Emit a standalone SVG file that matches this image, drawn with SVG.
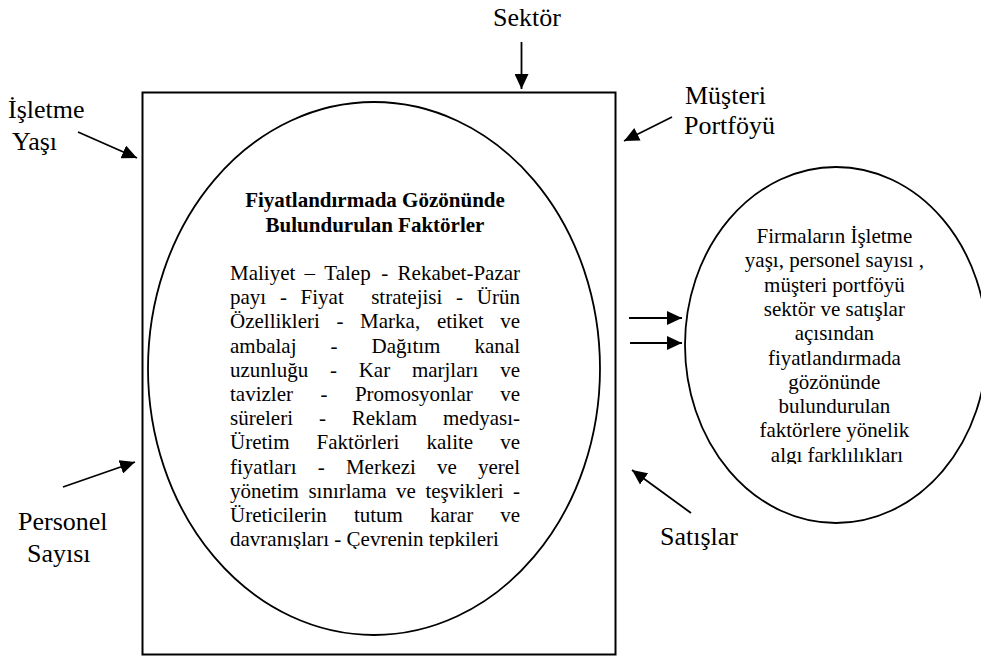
<svg xmlns="http://www.w3.org/2000/svg" width="981" height="657" viewBox="0 0 981 657" font-family="'Liberation Serif', Tinos, 'Times New Roman', Times, 'DejaVu Serif', serif">
<style>
text, tspan{font-family:"Liberation Serif", Tinos, "Times New Roman", Times, "DejaVu Serif", serif;fill:#000}
.lbl{font-size:26px}
.body{font-size:21px}
.title{font-size:21px;font-weight:bold}
.shape{fill:none;stroke:#000}
.conn{stroke:#000;stroke-width:1.8;fill:none;marker-end:url(#ah)}
</style>
<defs>
<marker id="ah" markerUnits="userSpaceOnUse" markerWidth="16" markerHeight="14" refX="15" refY="7" orient="auto">
<path d="M0,0 L15,7 L0,14 Z" fill="#000"/>
</marker>
<clipPath id="clipBody"><rect x="140" y="90" width="480" height="459"/></clipPath>
<clipPath id="clipRight"><rect x="680" y="160" width="301" height="304"/></clipPath>
</defs>
<rect width="981" height="657" fill="#fff"/>

<g id="factors-box">
<rect class="shape" x="142.5" y="92.5" width="473" height="562" stroke-width="2"/>
<ellipse class="shape" cx="374" cy="368.5" rx="226" ry="266.5" stroke-width="1.8"/>
<text class="title" x="375" y="207" text-anchor="middle">Fiyatlandırmada Gözönünde</text>
<text class="title" x="375" y="232" text-anchor="middle">Bulundurulan Faktörler</text>
<g clip-path="url(#clipBody)">
<text class="body" y="280"><tspan x="230">Maliyet</tspan><tspan x="304.6">–</tspan><tspan x="324.3">Talep</tspan><tspan x="381.3">-</tspan><tspan x="397.6">Rekabet-Pazar</tspan></text>
<text class="body" y="304.2"><tspan x="230">payı</tspan><tspan x="279.9">-</tspan><tspan x="300.6">Fiyat</tspan><tspan x="371.2">stratejisi</tspan><tspan x="456.1">-</tspan><tspan x="476.8">Ürün</tspan></text>
<text class="body" y="328.4"><tspan x="230">Özellikleri</tspan><tspan x="336.5">-</tspan><tspan x="360.1">Marka,</tspan><tspan x="436.9">etiket</tspan><tspan x="500.2">ve</tspan></text>
<text class="body" y="352.6"><tspan x="230">ambalaj</tspan><tspan x="330.6">-</tspan><tspan x="371.6">Dağıtım</tspan><tspan x="474.5">kanal</tspan></text>
<text class="body" y="376.8"><tspan x="230">uzunluğu</tspan><tspan x="329.9">-</tspan><tspan x="358.7">Kar</tspan><tspan x="411.9">marjları</tspan><tspan x="500.2">ve</tspan></text>
<text class="body" y="401"><tspan x="230">tavizler</tspan><tspan x="320.4">-</tspan><tspan x="354.9">Promosyonlar</tspan><tspan x="500.2">ve</tspan></text>
<text class="body" y="425.2"><tspan x="230">süreleri</tspan><tspan x="318.9">-</tspan><tspan x="351.8">Reklam</tspan><tspan x="443">medyası-</tspan></text>
<text class="body" y="449.4"><tspan x="230">Üretim</tspan><tspan x="316.6">Faktörleri</tspan><tspan x="426.5">kalite</tspan><tspan x="500.2">ve</tspan></text>
<text class="body" y="473.6"><tspan x="230">fiyatları</tspan><tspan x="317.7">-</tspan><tspan x="345.9">Merkezi</tspan><tspan x="437">ve</tspan><tspan x="478">yerel</tspan></text>
<text class="body" y="497.8"><tspan x="230">yönetim</tspan><tspan x="308.4">sınırlama</tspan><tspan x="396">ve</tspan><tspan x="425.4">teşvikleri</tspan><tspan x="513">-</tspan></text>
<text class="body" y="522"><tspan x="230">Üreticilerin</tspan><tspan x="353.9">tutum</tspan><tspan x="430">karar</tspan><tspan x="500.2">ve</tspan></text>
<text class="body" x="230" y="546.2">davranışları - Çevrenin tepkileri</text>
</g>
</g>

<g id="result-ellipse">
<ellipse class="shape" cx="836" cy="345" rx="151" ry="178" stroke-width="1.8"/>
<g clip-path="url(#clipRight)">
<text class="body" text-anchor="middle">
<tspan x="837" y="243">Firmaların İşletme</tspan>
<tspan x="837" y="267.3">yaşı, personel sayısı ,</tspan>
<tspan x="837" y="291.6">müşteri portföyü</tspan>
<tspan x="837" y="315.9">sektör ve satışlar</tspan>
<tspan x="837" y="340.2">açısından</tspan>
<tspan x="837" y="364.5">fiyatlandırmada</tspan>
<tspan x="837" y="388.8">gözönünde</tspan>
<tspan x="837" y="413.1">bulundurulan</tspan>
<tspan x="837" y="437.4">faktörlere yönelik</tspan>
<tspan x="837" y="461.7">algı farklılıkları</tspan>
</text>
</g>
</g>

<g id="label-sektor"><text class="lbl" x="493" y="26">Sektör</text></g>
<g id="label-isletme-yasi"><text class="lbl" x="8" y="118">İşletme</text><text class="lbl" x="12" y="150">Yaşı</text></g>
<g id="label-musteri-portfoyu"><text class="lbl" x="685" y="104">Müşteri</text><text class="lbl" x="684" y="134">Portföyü</text></g>
<g id="label-personel-sayisi"><text class="lbl" x="18" y="530">Personel</text><text class="lbl" x="27" y="562">Sayısı</text></g>
<g id="label-satislar"><text class="lbl" x="660" y="545">Satışlar</text></g>

<g id="connectors">
<line class="conn" x1="521.5" y1="42" x2="521.5" y2="89"/>
<line class="conn" x1="78" y1="132" x2="137" y2="158"/>
<line class="conn" x1="672" y1="117" x2="624" y2="141"/>
<line class="conn" x1="63" y1="487" x2="135" y2="462"/>
<line class="conn" x1="691" y1="513" x2="632" y2="470"/>
<line class="conn" x1="629" y1="318" x2="682" y2="318"/>
<line class="conn" x1="630" y1="343" x2="682" y2="343"/>
</g>
</svg>
